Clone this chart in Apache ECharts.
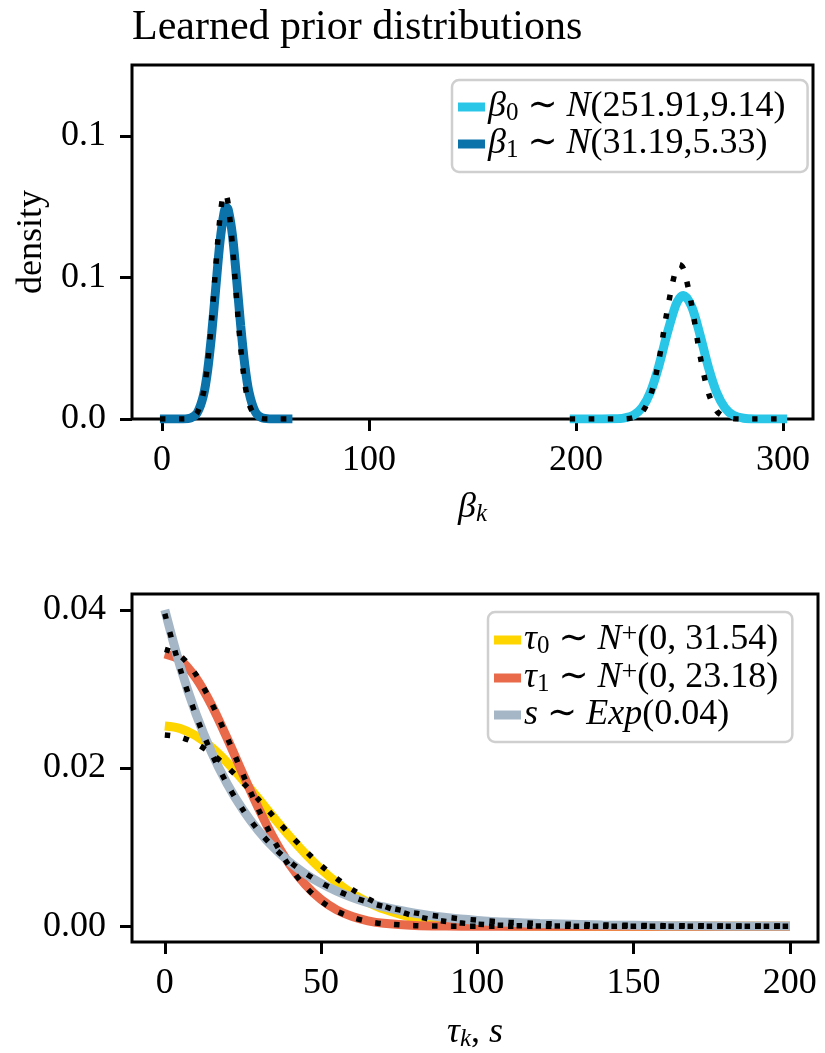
<!DOCTYPE html>
<html>
<head>
<meta charset="utf-8">
<script src="https://cdn.jsdelivr.net/npm/echarts@6/dist/echarts.min.js"></script>
<style>
html,body{margin:0;padding:0;background:#fff;}
#chart{width:825px;height:1053px;}
</style>
</head>
<body>
<div id="chart"></div>
<script>
// ---------- data ----------
// top panel: beta_1 (dark blue) and its dotted fit
const betaX1 = [-1, 5, 10, 14, 17, 20, 22, 24, 26, 28, 30, 31, 32, 34, 36, 38, 40, 42, 45, 48, 52, 57, 63];
const beta1 = [0, 0, 0.00003, 0.00041, 0.00216, 0.00826, 0.01693, 0.03013, 0.04659, 0.06257, 0.07301, 0.07484, 0.07399, 0.06512, 0.04981, 0.03309, 0.01910, 0.00957, 0.00261, 0.00052, 0.00004, 0, 0];
const beta1Fit = [0, 0, 0.00002, 0.00037, 0.0022, 0.0092, 0.01946, 0.0352, 0.0542, 0.0711, 0.0795, 0.0792, 0.0758, 0.0616, 0.0426, 0.0251, 0.0126, 0.0054, 0.0011, 0.00016, 0.00001, 0, 0];
// top panel: beta_0 (light cyan) and its dotted fit
const betaX0 = [197, 205, 212, 218, 223, 228, 232, 236, 240, 244, 248, 250, 252, 256, 260, 264, 268, 272, 276, 281, 287, 294, 302];
const beta0 = [0, 0, 0.000003, 0.000045, 0.00029, 0.00143, 0.00407, 0.00959, 0.01868, 0.03003, 0.03983, 0.04271, 0.04365, 0.03949, 0.02951, 0.0182, 0.00928, 0.0039, 0.00135, 0.00028, 0.00003, 0, 0];
const beta0Fit = [0, 0, 0, 0.000003, 0.00005, 0.00054, 0.00244, 0.00823, 0.02057, 0.03806, 0.05218, 0.05458, 0.05297, 0.03982, 0.02217, 0.00915, 0.0028, 0.00063, 0.00011, 0.00001, 0, 0, 0];

// bottom panel
const tauX = [0, 5, 10, 15, 20, 25, 30, 35, 40, 45, 50, 55, 60, 65, 70, 80, 90, 100, 110, 120, 140, 160, 180, 200];
const tau0 = [0.0253, 0.02498, 0.02406, 0.0226, 0.02069, 0.01848, 0.01609, 0.01367, 0.01132, 0.00914, 0.0072, 0.00553, 0.00414, 0.00303, 0.00216, 0.00101, 0.00043, 0.00017, 0.00006, 0.00002, 0, 0, 0, 0];
const tau0Fit = [0.02418, 0.0239, 0.02309, 0.02181, 0.02012, 0.01815, 0.016, 0.01378, 0.0116, 0.00954, 0.00767, 0.00603, 0.00463, 0.00348, 0.00255, 0.00128, 0.00059, 0.00025, 0.00009, 0.00003, 0, 0, 0, 0];
const tau1 = [0.03442, 0.03363, 0.03136, 0.02792, 0.02372, 0.01924, 0.0149, 0.01101, 0.00777, 0.00523, 0.00336, 0.00206, 0.00121, 0.00067, 0.00036, 0.00009, 0.00002, 0, 0, 0, 0, 0, 0, 0];
const tau1Fit = [0.035, 0.03417, 0.03179, 0.02819, 0.02383, 0.01919, 0.01473, 0.01077, 0.00751, 0.00499, 0.00316, 0.00191, 0.0011, 0.0006, 0.00031, 0.00007, 0.00001, 0, 0, 0, 0, 0, 0, 0];
const sExp = [0.04, 0.03275, 0.02681, 0.02195, 0.01797, 0.01472, 0.01205, 0.00986, 0.00808, 0.00661, 0.00541, 0.00443, 0.00363, 0.00297, 0.00243, 0.00163, 0.00109, 0.00073, 0.00049, 0.00033, 0.00015, 0.00007, 0.00003, 0.00001];
const sExpFit = [0.0395, 0.03242, 0.02661, 0.02184, 0.01793, 0.01471, 0.01208, 0.00991, 0.00814, 0.00668, 0.00548, 0.0045, 0.00369, 0.00303, 0.00249, 0.00168, 0.00113, 0.00076, 0.00051, 0.00034, 0.00016, 0.00007, 0.00003, 0.00001];

// ticks and labels
const topXTicks = [0, 100, 200, 300];
const topYTicks = [0, 0.05, 0.1];
const topYTickLabels = ['0.0', '0.1', '0.1'];
const botXTicks = [0, 50, 100, 150, 200];
const botYTicks = [0, 0.02, 0.04];
const botYTickLabels = ['0.00', '0.02', '0.04'];

// legend names and rich-text labels
const topLegendNames = ['beta0', 'beta1'];
const topLegendLabels = [
  '{it|β}{sub|0}{rm| ∼ }{it|N}{rm|(251.91,9.14)}',
  '{it|β}{sub|1}{rm| ∼ }{it|N}{rm|(31.19,5.33)}'
];
const botLegendNames = ['tau0', 'tau1', 's'];
const botLegendLabels = [
  '{it|τ}{sub|0}{rm| ∼ }{it|N}{sup|+}{rm|(0, 31.54)}',
  '{it|τ}{sub|1}{rm| ∼ }{it|N}{sup|+}{rm|(0, 23.18)}',
  '{it|s}{rm| ∼ }{it|Exp}{rm|(0.04)}'
];

// ---------- styling ----------
const SERIF = '"Liberation Serif", "DejaVu Serif", serif';
const colors = {beta0: '#2ac6e8', beta1: '#0b72aa', tau0: '#ffd500', tau1: '#e96a4b', s: '#a5b7c7'};
const rich = {
  it: {fontFamily: SERIF, fontStyle: 'italic', fontSize: 36, lineHeight: 38, color: '#000'},
  rm: {fontFamily: SERIF, fontSize: 36, lineHeight: 38, color: '#000'},
  sub: {fontFamily: SERIF, fontSize: 25, lineHeight: 16, verticalAlign: 'bottom', color: '#000'},
  subit: {fontFamily: SERIF, fontStyle: 'italic', fontSize: 25, lineHeight: 16, verticalAlign: 'bottom', color: '#000'},
  sup: {fontFamily: SERIF, fontSize: 28, lineHeight: 18, verticalAlign: 'top', color: '#000'}
};
function pairs(xs, ys) { return xs.map((x, i) => [x, ys[i]]); }
function labelFor(names, labels) { return n => labels[names.indexOf(n)]; }

function solid(name, xs, ys, gi) {
  return {name: name, type: 'line', xAxisIndex: gi, yAxisIndex: gi, data: pairs(xs, ys),
    symbol: 'none', smooth: 0.3, color: colors[name],
    lineStyle: {width: 9, color: colors[name]}, z: 2};
}
function dotted(name, xs, ys, gi) {
  return {name: name, type: 'line', xAxisIndex: gi, yAxisIndex: gi, data: pairs(xs, ys),
    symbol: 'none', smooth: 0.3, color: '#000',
    lineStyle: {width: 5.5, color: '#000', type: [5.5, 13.5], cap: 'butt'}, z: 3};
}
function axisCommon() {
  return {
    axisLine: {show: false, onZero: false},
    axisTick: {show: true, length: 12, inside: false, lineStyle: {width: 3, color: '#000'}},
    splitLine: {show: false},
    axisLabel: {fontFamily: SERIF, fontSize: 36, color: '#000'}
  };
}

const chart = echarts.init(document.getElementById('chart'), null, {renderer: 'canvas'});
const xTop = axisCommon(), yTop = axisCommon(), xBot = axisCommon(), yBot = axisCommon();

const option = {
  animation: false,
  backgroundColor: '#fff',
  title: {text: 'Learned prior distributions', left: 127, top: 2,
    textStyle: {fontFamily: SERIF, fontSize: 42, fontWeight: 'normal', color: '#000'}},
  grid: [
    {left: 132, right: 12, top: 65, bottom: 634, show: true, borderColor: '#000', borderWidth: 3, backgroundColor: 'transparent'},
    {left: 132, right: 7, top: 594, bottom: 103, show: true, borderColor: '#000', borderWidth: 3, backgroundColor: 'transparent'}
  ],
  xAxis: [
    Object.assign(xTop, {type: 'value', gridIndex: 0, min: -14.5, max: 314.5,
      axisTick: Object.assign(xTop.axisTick, {customValues: topXTicks}),
      axisLabel: Object.assign(xTop.axisLabel, {customValues: topXTicks, margin: 24}),
      name: '{it|β}{subit|k}', nameLocation: 'middle', nameGap: 70,
      nameTextStyle: {rich: rich}}),
    Object.assign(xBot, {type: 'value', gridIndex: 1, min: -10.5, max: 209,
      axisTick: Object.assign(xBot.axisTick, {customValues: botXTicks}),
      axisLabel: Object.assign(xBot.axisLabel, {customValues: botXTicks, margin: 24}),
      name: '{it|τ}{subit|k}{rm|, }{it|s}', nameLocation: 'middle', nameGap: 72,
      nameTextStyle: {rich: rich}})
  ],
  yAxis: [
    Object.assign(yTop, {type: 'value', gridIndex: 0, min: 0, max: 0.1251,
      axisTick: Object.assign(yTop.axisTick, {customValues: topYTicks}),
      axisLabel: Object.assign(yTop.axisLabel, {customValues: topYTicks, margin: 26,
        formatter: v => topYTickLabels[topYTicks.findIndex(t => Math.abs(t - v) < 1e-9)]}),
      name: 'density', nameLocation: 'middle', nameGap: 82,
      nameTextStyle: {fontFamily: SERIF, fontSize: 36, color: '#000'}}),
    Object.assign(yBot, {type: 'value', gridIndex: 1, min: -0.002, max: 0.042,
      axisTick: Object.assign(yBot.axisTick, {customValues: botYTicks}),
      axisLabel: Object.assign(yBot.axisLabel, {customValues: botYTicks, margin: 26,
        formatter: v => botYTickLabels[botYTicks.findIndex(t => Math.abs(t - v) < 1e-9)]})})
  ],
  legend: [
    {data: topLegendNames, orient: 'vertical', left: 452, top: 80, itemGap: 0,
      icon: 'rect', itemWidth: 27, itemHeight: 9, align: 'left',
      padding: [9, 22, 9, 6], backgroundColor: 'rgba(255,255,255,0.85)',
      borderColor: '#cfcfcf', borderWidth: 2.5, borderRadius: 7,
      formatter: labelFor(topLegendNames, topLegendLabels),
      textStyle: {rich: rich, padding: [0, 0, 0, -2]}},
    {data: botLegendNames, orient: 'vertical', left: 488, top: 612, itemGap: 0,
      icon: 'rect', itemWidth: 27, itemHeight: 9, align: 'left',
      padding: [9, 14, 9, 6], backgroundColor: 'rgba(255,255,255,0.85)',
      borderColor: '#cfcfcf', borderWidth: 2.5, borderRadius: 7,
      formatter: labelFor(botLegendNames, botLegendLabels),
      textStyle: {rich: rich, padding: [0, 0, 0, -2]}}
  ],
  series: [
    solid('beta0', betaX0, beta0, 0),
    dotted('beta0fit', betaX0, beta0Fit, 0),
    solid('beta1', betaX1, beta1, 0),
    dotted('beta1fit', betaX1, beta1Fit, 0),
    solid('tau0', tauX, tau0, 1),
    dotted('tau0fit', tauX, tau0Fit, 1),
    solid('tau1', tauX, tau1, 1),
    dotted('tau1fit', tauX, tau1Fit, 1),
    solid('s', tauX, sExp, 1),
    dotted('sfit', tauX, sExpFit, 1)
  ]
};
chart.setOption(option);
</script>
</body>
</html>
